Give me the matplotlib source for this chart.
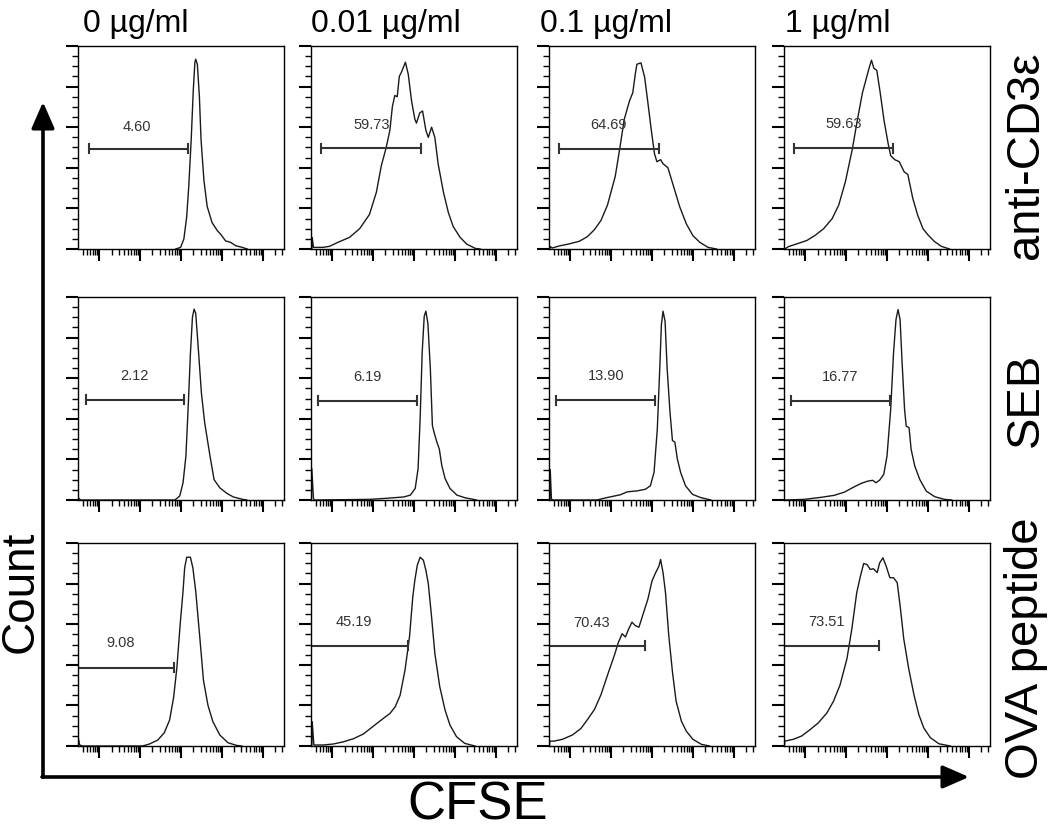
import matplotlib
matplotlib.use('Agg')
import matplotlib.pyplot as plt
from matplotlib.ticker import LogLocator, MultipleLocator, NullFormatter

# column / row labels
conc_labels = ['0 µg/ml', '0.01 µg/ml', '0.1 µg/ml', '1 µg/ml']
stim_labels = ['anti-CD3ε', 'SEB', 'OVA peptide']

# histograms: x = log10(CFSE), y = % of max count
# --- anti-CD3e row
cd3_0_x = [2.87, 2.99, 3.07, 3.14, 3.19, 3.25, 3.30, 3.34, 3.36, 3.40, 3.45, 3.49, 3.56, 3.64, 3.76, 3.89, 3.97, 4.09, 4.21, 4.34, 4.50, 4.62]
cd3_0_y = [0, 0.8, 4.9, 16, 31, 54, 78, 92, 93.5, 91, 75, 54, 34, 21, 13, 9, 7.3, 4, 3.3, 1.6, 0.8, 0]
cd3_001_x = [0.50, 0.51, 0.54, 0.77, 0.93, 1.14, 1.42, 1.67, 1.91, 2.08, 2.20, 2.32, 2.41, 2.47, 2.53, 2.59, 2.64, 2.69, 2.73, 2.79, 2.86, 2.94, 3.02, 3.06, 3.14, 3.21, 3.29, 3.35, 3.43, 3.51, 3.59, 3.72, 3.84, 3.96, 4.13, 4.29, 4.50, 4.62]
cd3_001_y = [0, 5.7, 0.8, 0.8, 1.3, 3.3, 5.7, 10, 17, 28, 41, 50, 58.5, 70, 75.6, 75, 85, 87, 89, 92, 86, 73, 64, 62, 67, 68, 58.5, 55, 60, 55, 42, 28, 18, 11, 5.7, 2.4, 0.3, 0]
cd3_01_x = [0.50, 0.51, 0.56, 0.73, 0.97, 1.22, 1.42, 1.59, 1.75, 1.91, 2.10, 2.22, 2.32, 2.45, 2.53, 2.59, 2.63, 2.73, 2.82, 2.90, 2.98, 3.06, 3.12, 3.21, 3.27, 3.39, 3.51, 3.68, 3.84, 4.00, 4.17, 4.37, 4.58]
cd3_01_y = [0, 1.2, 0.5, 1.5, 2.5, 3.8, 6.1, 9.5, 14, 21.6, 35.7, 50.6, 63.8, 73, 77, 86, 91, 91.7, 84.6, 72, 59, 47, 43, 44, 42, 40, 32, 20.7, 12.4, 6.6, 3.3, 0.8, 0]
cd3_1_x = [0.50, 0.59, 0.79, 1.04, 1.24, 1.45, 1.66, 1.82, 1.98, 2.15, 2.27, 2.40, 2.48, 2.56, 2.62, 2.68, 2.75, 2.83, 2.93, 3.03, 3.09, 3.19, 3.30, 3.42, 3.51, 3.63, 3.75, 3.88, 4.00, 4.16, 4.33, 4.53]
cd3_1_y = [0, 1.2, 2.5, 4.2, 6.7, 10, 15, 21.7, 33, 49, 63, 77, 83, 89, 93, 89, 88, 77.5, 63, 51.7, 46, 44, 43, 38, 36.7, 25, 16.7, 10, 7, 3.7, 1.3, 0]

# --- SEB row
seb_0_x = [0.49, 0.54, 2.85, 2.97, 3.05, 3.12, 3.18, 3.23, 3.28, 3.32, 3.36, 3.42, 3.50, 3.58, 3.71, 3.81, 3.95, 4.12, 4.28, 4.51, 4.61]
seb_0_y = [1, 0, 0, 2, 8.5, 21.6, 47.7, 72, 90, 94, 92, 75.5, 52.6, 38, 21.6, 10, 6, 3.3, 1.5, 0.3, 0]
seb_001_x = [0.49, 0.50, 0.54, 0.56, 1.90, 2.30, 2.75, 2.91, 3.03, 3.10, 3.15, 3.20, 3.25, 3.29, 3.34, 3.40, 3.45, 3.49, 3.56, 3.62, 3.68, 3.76, 3.88, 4.05, 4.25, 4.53]
seb_001_y = [0, 15.5, 0.8, 0, 0.3, 0.8, 1.5, 2.4, 5.7, 15.5, 40, 72.6, 90.5, 93, 87, 64.6, 36.7, 33.4, 28.5, 25, 17, 10.6, 5.7, 2.4, 1.1, 0]
seb_01_x = [0.50, 0.51, 0.54, 0.59, 1.65, 1.90, 2.23, 2.39, 2.64, 2.84, 2.96, 3.05, 3.13, 3.19, 3.23, 3.27, 3.32, 3.37, 3.44, 3.50, 3.56, 3.62, 3.70, 3.82, 3.99, 4.19, 4.44]
seb_01_y = [0, 15, 0.3, 0, 0, 1.2, 2.6, 4, 4.5, 5.3, 7, 13.6, 35, 65, 86.4, 93, 88, 65, 43.4, 29.3, 28.5, 20.2, 13.6, 7, 2.8, 1.2, 0]
seb_1_x = [0.50, 0.97, 1.38, 1.71, 1.96, 2.16, 2.37, 2.53, 2.65, 2.73, 2.82, 2.92, 3.00, 3.09, 3.16, 3.22, 3.27, 3.32, 3.37, 3.43, 3.47, 3.54, 3.59, 3.68, 3.80, 3.96, 4.17, 4.41, 4.58]
seb_1_y = [0, 0.3, 1.3, 2.3, 3.9, 6.1, 8.2, 9.3, 9.7, 8.5, 9.8, 12.6, 21.6, 44.6, 72.5, 88.9, 93.8, 88.9, 67.5, 44.6, 36.4, 35.6, 25, 16.7, 10.2, 4.4, 1.6, 0.3, 0]

# --- OVA peptide row
ova_0_x = [0.48, 0.52, 0.59, 2.06, 2.23, 2.43, 2.59, 2.72, 2.82, 2.90, 2.98, 3.05, 3.09, 3.14, 3.23, 3.29, 3.36, 3.46, 3.55, 3.66, 3.78, 3.95, 4.15, 4.36, 4.48]
ova_0_y = [4.6, 0.5, 0, 0, 1, 2.9, 6.5, 12.7, 24, 38.8, 60, 76.3, 87.8, 93, 93, 87.8, 76.3, 53.5, 32.3, 20, 12, 5.4, 1.6, 0.3, 0]
ova_001_x = [0.50, 0.51, 0.55, 0.79, 1.03, 1.28, 1.52, 1.76, 1.97, 2.09, 2.25, 2.41, 2.54, 2.66, 2.78, 2.89, 2.97, 3.02, 3.08, 3.15, 3.23, 3.29, 3.35, 3.43, 3.51, 3.63, 3.76, 3.88, 4.04, 4.24, 4.49]
ova_001_y = [0, 12, 0.5, 0.5, 1, 2.1, 3.6, 5.9, 9.2, 11.1, 13.6, 16, 19.3, 25, 37.4, 53.8, 73.4, 81.6, 89, 93, 91.5, 86.6, 80, 63.6, 45.6, 29.2, 17.7, 10.3, 4.6, 1.3, 0]
ova_01_x = [0.49, 0.50, 0.60, 0.81, 1.05, 1.26, 1.42, 1.59, 1.75, 1.94, 2.08, 2.18, 2.27, 2.35, 2.43, 2.51, 2.59, 2.68, 2.77, 2.90, 3.00, 3.09, 3.17, 3.21, 3.27, 3.33, 3.41, 3.50, 3.59, 3.72, 3.84, 4.00, 4.21, 4.41]
ova_01_y = [0, 2.4, 2.4, 3.3, 5.4, 8.6, 13, 17.9, 25.2, 36.6, 44.7, 51.2, 55.3, 53.7, 57.7, 61, 59.3, 58.5, 64.2, 72.4, 81.3, 85.4, 88.6, 91.9, 85.4, 75.6, 54.5, 36.6, 22, 12.2, 7.3, 3.3, 0.8, 0]
ova_1_x = [0.49, 0.50, 0.71, 0.91, 1.12, 1.32, 1.53, 1.69, 1.85, 2.02, 2.14, 2.26, 2.35, 2.43, 2.51, 2.59, 2.67, 2.76, 2.82, 2.90, 2.98, 3.07, 3.16, 3.25, 3.33, 3.41, 3.53, 3.66, 3.78, 3.90, 4.06, 4.27, 4.55]
ova_1_y = [0, 2.4, 3.3, 4.9, 8.1, 11.4, 16.3, 22, 30, 43, 57.7, 75.6, 83.7, 89.9, 89.4, 87, 87.3, 85.4, 90.2, 92.7, 88.6, 82.9, 82.9, 80.5, 67.5, 52.8, 38.2, 25.2, 15.4, 8.9, 4.1, 1.1, 0]

# gates (log10 CFSE), gate height (% max), percentage labels
gate_left = [[0.74, 0.73, 0.73, 0.73],
             [0.67, 0.64, 0.65, 0.64],
             [0.20, 0.20, 0.20, 0.20]]
gate_right = [[3.17, 3.16, 3.16, 3.15],
              [3.07, 3.07, 3.07, 3.08],
              [2.84, 2.86, 2.84, 2.81]]
gate_y = [[49.3, 49.6, 49.4, 49.7],
          [49.3, 48.9, 49.2, 49.0],
          [38.5, 49.3, 49.3, 49.3]]
gate_pct = [['4.60', '59.73', '64.69', '59.63'],
            ['2.12', '6.19', '13.90', '16.77'],
            ['9.08', '45.19', '70.43', '73.51']]
label_x = [[1.93, 1.96, 1.94, 1.94],
           [1.87, 1.86, 1.88, 1.86],
           [1.53, 1.54, 1.53, 1.51]]
label_y = [[60.2, 61.0, 60.9, 61.7],
           [61.1, 60.8, 61.3, 60.7],
           [50.6, 61.1, 60.7, 61.0]]

W, H = 1050, 833
col_left = [78, 311, 549, 784]
row_top = [46, 297, 543]
pw, ph = 206, 203


def plot():
    plt.rcParams['font.family'] = ['Liberation Sans', 'DejaVu Sans']
    fig = plt.figure(figsize=(W / 100, H / 100), dpi=100)

    curves = [[(cd3_0_x, cd3_0_y), (cd3_001_x, cd3_001_y), (cd3_01_x, cd3_01_y), (cd3_1_x, cd3_1_y)],
              [(seb_0_x, seb_0_y), (seb_001_x, seb_001_y), (seb_01_x, seb_01_y), (seb_1_x, seb_1_y)],
              [(ova_0_x, ova_0_y), (ova_001_x, ova_001_y), (ova_01_x, ova_01_y), (ova_1_x, ova_1_y)]]

    for r in range(3):
        for c in range(4):
            ax = fig.add_axes([col_left[c] / W, 1 - (row_top[r] + ph) / H, pw / W, ph / H])
            xs, ys = curves[r][c]
            ax.plot([10 ** v for v in xs], ys, color='#1a1a1a', lw=1.0)

            # gate bar with end caps
            gl, gr, gy = 10 ** gate_left[r][c], 10 ** gate_right[r][c], gate_y[r][c]
            ax.plot([gl, gr], [gy, gy], color='#333333', lw=1.5)
            ax.plot([gl, gl], [gy - 2.2, gy + 2.2], color='#333333', lw=1.5)
            ax.plot([gr, gr], [gy - 2.2, gy + 2.2], color='#333333', lw=1.5)
            ax.text(10 ** label_x[r][c], label_y[r][c], gate_pct[r][c], ha='center', va='center',
                    fontsize=10.5, color='#333333')

            ax.set_xscale('log')
            ax.set_xlim(10 ** 0.48, 10 ** 5.52)
            ax.set_ylim(0, 100)
            ax.xaxis.set_major_locator(LogLocator(base=10, numticks=10))
            ax.xaxis.set_minor_locator(LogLocator(base=10, subs=range(2, 10), numticks=20))
            ax.yaxis.set_major_locator(MultipleLocator(20))
            ax.yaxis.set_minor_locator(MultipleLocator(5))
            ax.xaxis.set_major_formatter(NullFormatter())
            ax.xaxis.set_minor_formatter(NullFormatter())
            ax.yaxis.set_major_formatter(NullFormatter())
            ax.tick_params(which='major', direction='out', length=8.5, width=1.5, color='black')
            ax.tick_params(which='minor', direction='out', length=4.3, width=1.0, color='black')
            for s in ax.spines.values():
                s.set_linewidth(1.0)

    # overlay in pixel coords for arrows and big labels
    ov = fig.add_axes([0, 0, 1, 1], zorder=-1)
    ov.set_xlim(0, W)
    ov.set_ylim(H, 0)
    ov.axis('off')
    arrow = dict(arrowstyle='-|>,head_length=0.8,head_width=0.35', lw=2.6, color='black',
                 shrinkA=0, shrinkB=0, mutation_scale=20)
    ov.annotate('', xy=(43, 102), xytext=(43, 777), arrowprops=arrow)
    ov.annotate('', xy=(969, 777), xytext=(42, 777), arrowprops=arrow)

    ov.text(21, 592, 'Count', rotation=90, ha='center', va='center', fontsize=33)
    ov.text(478, 806, 'CFSE', ha='center', va='center', fontsize=38)

    col_cx = [136, 386, 606, 838]
    for cx, lab in zip(col_cx, conc_labels):
        ov.text(cx, 24, lab, ha='center', va='center', fontsize=23)

    row_cy = [155, 400, 648]
    for cy, lab in zip(row_cy, stim_labels):
        ov.text(1026, cy, lab, rotation=90, ha='center', va='center', fontsize=34)

    fig.savefig('out.png', dpi=100, facecolor='white')


if __name__ == '__main__':
    plot()
